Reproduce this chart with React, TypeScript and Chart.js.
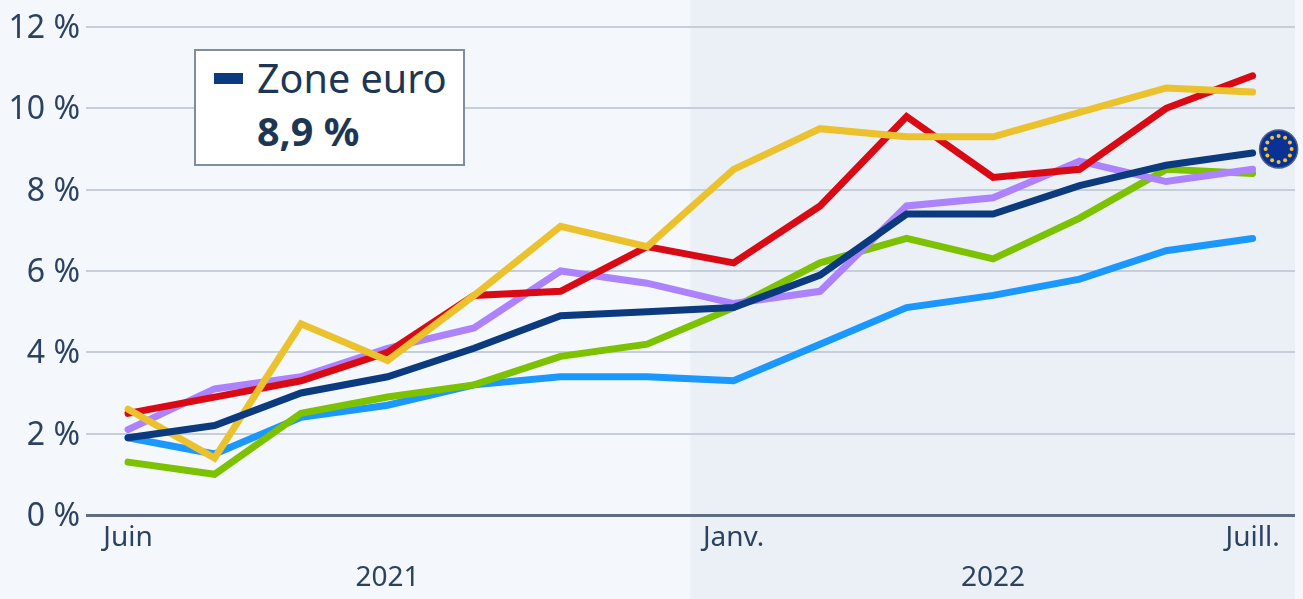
import React, { useEffect, useRef } from "react";
import { Chart, registerables } from "chart.js";

Chart.register(...registerables);

const FONT = "'Noto Sans', 'Open Sans', sans-serif";
const INK = "#2b4260";

const monthLabels = ["Juin", "", "", "", "", "", "", "Janv.", "", "", "", "", "", "Juill."];
const monthTicks = [0, 7, 13];
const yearLabels = [
  { text: "2021", at: 3 },
  { text: "2022", at: 10 },
];
const shadedFrom = 6.5;

const blue = [1.9, 1.5, 2.4, 2.7, 3.2, 3.4, 3.4, 3.3, 4.2, 5.1, 5.4, 5.8, 6.5, 6.8];
const green = [1.3, 1.0, 2.5, 2.9, 3.2, 3.9, 4.2, 5.1, 6.2, 6.8, 6.3, 7.3, 8.5, 8.4];
const purple = [2.1, 3.1, 3.4, 4.1, 4.6, 6.0, 5.7, 5.2, 5.5, 7.6, 7.8, 8.7, 8.2, 8.5];
const red = [2.5, 2.9, 3.3, 4.0, 5.4, 5.5, 6.6, 6.2, 7.6, 9.8, 8.3, 8.5, 10.0, 10.8];
const yellow = [2.6, 1.4, 4.7, 3.8, 5.4, 7.1, 6.6, 8.5, 9.5, 9.3, 9.3, 9.9, 10.5, 10.4];
const euroZone = [1.9, 2.2, 3.0, 3.4, 4.1, 4.9, 5.0, 5.1, 5.9, 7.4, 7.4, 8.1, 8.6, 8.9];

const seriesList = [
  { values: blue, color: "#1b98ff" },
  { values: green, color: "#7cc200" },
  { values: purple, color: "#ad82ff" },
  { values: red, color: "#d90a14" },
  { values: yellow, color: "#ebc22e" },
  { values: euroZone, color: "#0b3a7e" },
];

const toPoints = (values: number[]) => values.map((y, x) => ({ x, y }));

const backdrop = {
  id: "backdrop",
  beforeDraw(chart: any) {
    const { ctx, chartArea, scales, height } = chart;
    const left = scales.x.getPixelForValue(shadedFrom);
    ctx.save();
    ctx.fillStyle = "#ebf0f7";
    ctx.fillRect(left, 0, chartArea.right - left, height);
    ctx.restore();
  },
};

const annotations = {
  id: "annotations",
  afterDraw(chart: any) {
    const { ctx, scales } = chart;
    ctx.save();
    ctx.font = `28px ${FONT}`;
    ctx.fillStyle = INK;
    ctx.textAlign = "center";
    ctx.textBaseline = "middle";
    yearLabels.forEach((y) => ctx.fillText(y.text, scales.x.getPixelForValue(y.at), 578));

    const cx = scales.x.getPixelForValue(13) + 26;
    const cy = scales.y.getPixelForValue(euroZone[13]) - 4;
    ctx.beginPath();
    ctx.arc(cx, cy, 19, 0, Math.PI * 2);
    ctx.fillStyle = "#0a3296";
    ctx.fill();
    ctx.lineWidth = 1.5;
    ctx.strokeStyle = "#4a5f8c";
    ctx.stroke();
    ctx.fillStyle = "#f2c52c";
    for (let i = 0; i < 12; i++) {
      const a = (i * Math.PI) / 6;
      ctx.beginPath();
      ctx.arc(cx + 13 * Math.cos(a), cy + 13 * Math.sin(a), 2, 0, Math.PI * 2);
      ctx.fill();
    }
    ctx.restore();
  },
};

export default function App() {
  const ref = useRef<HTMLCanvasElement>(null);

  useEffect(() => {
    const chart = new Chart(ref.current as HTMLCanvasElement, {
      type: "line",
      data: {
        datasets: seriesList.map((s, i) => ({
          data: toPoints(s.values),
          borderColor: s.color,
          borderWidth: 7,
          pointRadius: 0,
          tension: 0,
          borderCapStyle: "round",
          borderJoinStyle: "miter",
          clip: false,
          order: seriesList.length - i,
        })),
      } as any,
      plugins: [backdrop, annotations],
      options: {
        animation: false,
        responsive: false,
        events: [],
        layout: { padding: { top: 27, right: 8, left: 0, bottom: 0 } },
        plugins: { legend: { display: false }, tooltip: { enabled: false } },
        scales: {
          x: {
            type: "linear",
            min: -0.486,
            max: 13.49,
            afterFit: (axis: any) => {
              axis.height = 84;
            },
            afterBuildTicks: (axis: any) => {
              axis.ticks = monthTicks.map((value) => ({ value }));
            },
            grid: { display: false },
            border: { display: false },
            ticks: {
              autoSkip: false,
              maxRotation: 0,
              padding: -2,
              color: INK,
              font: { family: FONT, size: 28 },
              callback: (v: any) => monthLabels[v as number],
            },
          },
          y: {
            min: 0,
            max: 12,
            afterFit: (axis: any) => {
              axis.width = 86;
            },
            border: { display: false },
            grid: {
              drawTicks: false,
              color: (c: any) => (c.tick.value === 0 ? "#5e6e80" : "#c6ced9"),
              lineWidth: (c: any) => (c.tick.value === 0 ? 3 : 2),
            },
            ticks: {
              stepSize: 2,
              padding: 6,
              labelOffset: 2,
              color: INK,
              font: { family: FONT, size: 32 },
              callback: (v: any) => `${v} %`,
            },
          },
        },
      } as any,
    });
    return () => chart.destroy();
  }, []);

  return (
    <div style={{ position: "fixed", left: 0, top: 0, width: 1303, height: 599, background: "#f4f7fb", overflow: "hidden" }}>
      <canvas ref={ref} width={1303} height={599} style={{ display: "block", width: 1303, height: 599 }} />
      <div
        style={{
          position: "absolute",
          left: 194,
          top: 49,
          width: 271,
          height: 117,
          boxSizing: "border-box",
          background: "#ffffff",
          border: "2px solid #7f8d9e",
          fontFamily: FONT,
          color: "#1d3654",
          fontSize: 39.5,
        }}
      >
        <div style={{ position: "absolute", left: 18, top: 22, width: 29, height: 11, background: "#0b3a7e" }} />
        <div style={{ position: "absolute", left: 61, top: 2, lineHeight: "50px", whiteSpace: "nowrap" }}>Zone euro</div>
        <div style={{ position: "absolute", left: 61, top: 55, lineHeight: "50px", fontWeight: 700, whiteSpace: "nowrap" }}>8,9 %</div>
      </div>
    </div>
  );
}
